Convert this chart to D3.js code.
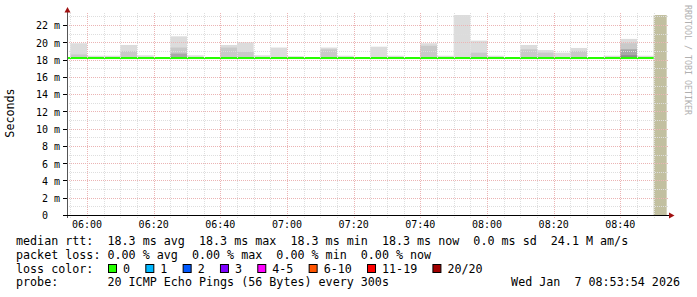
<!DOCTYPE html>
<html>
<head>
<meta charset="utf-8">
<script src="https://cdn.jsdelivr.net/npm/d3@7"></script>
<style>
  body { margin: 0; background: #fff; }
  text { font-family: "DejaVu Sans Mono", monospace; fill: #000; }
</style>
</head>
<body>
<div id="chart"></div>
<script>
// 5 minute steps, each value belongs to the interval that ends at that time
const stepEnds = ["05:55","06:00","06:05","06:10","06:15","06:20","06:25","06:30","06:35","06:40",
  "06:45","06:50","06:55","07:00","07:05","07:10","07:15","07:20","07:25","07:30",
  "07:35","07:40","07:45","07:50","07:55","08:00","08:05","08:10","08:15","08:20",
  "08:25","08:30","08:35","08:40","08:45","08:50"];

// median rtt (ms)
const medianRtt = stepEnds.map(() => 18.2);

// smoke layers (ms), lightest = highest ping, darker layers closer to the median
const smokeMax = [18.2,19.9,18.45,18.45,19.7,18.5,18.2,20.7,18.5,18.2,19.7,20.0,18.5,19.4,18.4,18.2,
  19.4,18.45,18.2,19.5,18.45,18.2,19.9,18.45,24.5,20.2,18.45,18.2,19.7,19.1,18.8,19.35,18.2,18.45,20.4,18.45];
const smokeHi  = [18.2,18.6,18.2,18.2,19.0,18.2,18.2,19.4,18.2,18.2,19.4,18.9,18.2,18.2,18.2,18.2,
  19.2,18.2,18.2,18.2,18.2,18.2,19.6,18.2,18.2,18.8,18.2,18.2,19.2,18.8,18.2,19.0,18.2,18.2,19.9,18.2];
const smokeMid = [18.2,18.2,18.2,18.2,18.2,18.2,18.2,18.7,18.2,18.2,18.2,18.2,18.2,18.2,18.2,18.2,
  18.2,18.2,18.2,18.2,18.2,18.2,18.2,18.2,18.2,18.2,18.2,18.2,18.2,18.2,18.2,18.2,18.2,18.2,19.2,18.2];
const smokeLo  = [18.2,18.2,18.2,18.2,18.2,18.2,18.2,18.2,18.2,18.2,18.2,18.2,18.2,18.2,18.2,18.2,
  18.2,18.2,18.2,18.2,18.2,18.2,18.2,18.2,18.2,18.2,18.2,18.2,18.2,18.2,18.2,18.2,18.2,18.2,18.5,18.2];

const yTicks = [0, 2, 4, 6, 8, 10, 12, 14, 16, 18, 20, 22];
const xTickLabels = ["06:00","06:20","06:40","07:00","07:20","07:40","08:00","08:20","08:40"];

const lossLabels = ["0", "1", "2", "3", "4-5", "6-10", "11-19", "20/20"];
const lossColors = ["#26ff00", "#00b8ff", "#0059ff", "#7e00ff", "#ff00ff", "#ff5500", "#ff0000", "#a10000"];

const legendLines = [
  "median rtt:  18.3 ms avg  18.3 ms max  18.3 ms min  18.3 ms now  0.0 ms sd  24.1 M am/s",
  "packet loss: 0.00 % avg  0.00 % max  0.00 % min  0.00 % now"
];
const probeText = "probe:       20 ICMP Echo Pings (56 Bytes) every 300s";
const stampText = "Wed Jan  7 08:53:54 2026";

const t = s => { const [h, m] = s.split(":").map(Number); return new Date(2026, 0, 7, h, m); };
const tStart = t("05:54"), tEnd = t("08:54"), tNow = new Date(2026, 0, 7, 8, 53, 54);

const width = 697, height = 297;
const x = d3.scaleTime().domain([tStart, tEnd]).range([67, 667]);
const y = d3.scaleLinear().domain([0, 23.17]).range([215, 15]);

const svg = d3.select("#chart").append("svg")
  .attr("width", width).attr("height", height);

svg.append("defs").append("clipPath").attr("id", "plot")
  .append("rect").attr("x", 67).attr("y", 15).attr("width", 600).attr("height", 200);

const data = stepEnds.map((s, i) => ({
  t1: t(s), t0: new Date(t(s) - 5 * 60000),
  med: medianRtt[i], layers: [smokeMax[i], smokeHi[i], smokeMid[i], smokeLo[i]]
}));

// smoke
const shades = ["#dcdcdc", "#c9c9c9", "#a8a8a8", "#8c8c8c"];
const plot = svg.append("g").attr("clip-path", "url(#plot)");
shades.forEach((c, k) => {
  plot.selectAll(null).data(data.filter(d => d.layers[k] > d.med)).enter().append("rect")
    .attr("x", d => x(d.t0)).attr("width", d => x(d.t1) - x(d.t0))
    .attr("y", d => y(d.layers[k])).attr("height", d => y(d.med) - y(d.layers[k]))
    .attr("fill", c);
});

// unknown (not yet measured) part
plot.append("rect")
  .attr("x", x(t("08:50"))).attr("width", x(tNow) - x(t("08:50")))
  .attr("y", y(23.17)).attr("height", y(0) - y(23.17))
  .attr("fill", "#c2c0a0");

// grid
const grid = svg.append("g").attr("stroke-dasharray", "1,1").attr("stroke-width", 1);
d3.range(0, 24).forEach(v => {
  grid.append("line")
    .attr("x1", 67).attr("x2", 669)
    .attr("y1", Math.round(y(v)) + 0.5).attr("y2", Math.round(y(v)) + 0.5)
    .attr("stroke", v % 2 === 0 ? "#ebb4b4" : "#dedede");
});
d3.timeMinute.every(5).range(t("05:55"), tEnd).forEach(d => {
  const major = d.getMinutes() % 20 === 0;
  grid.append("line")
    .attr("x1", Math.round(x(d)) + 0.5).attr("x2", Math.round(x(d)) + 0.5)
    .attr("y1", 13).attr("y2", 218)
    .attr("stroke", major ? "#ebb4b4" : "#dedede");
});

// median line
const line = d3.line().x(d => x(d[0])).y(d => y(d[1]));
const pts = [];
data.forEach(d => { pts.push([d.t0, d.med]); pts.push([d.t1, d.med]); });
plot.append("path").attr("d", line(pts))
  .attr("fill", "none").attr("stroke", "#26ff00").attr("stroke-width", 2);

// axes
svg.append("line").attr("x1", 67.5).attr("x2", 67.5).attr("y1", 12).attr("y2", 218)
  .attr("stroke", "#555");
svg.append("line").attr("x1", 63).attr("x2", 670).attr("y1", 215.5).attr("y2", 215.5)
  .attr("stroke", "#000");
svg.append("path").attr("d", "M64.5,12.5L67.5,7L70.5,12.5Z").attr("fill", "#a01010");
svg.append("path").attr("d", "M669,212.5L674.5,215.5L669,218.5Z").attr("fill", "#a01010");

yTicks.forEach(v => {
  svg.append("line").attr("x1", 63).attr("x2", 67)
    .attr("y1", Math.round(y(v)) + 0.5).attr("y2", Math.round(y(v)) + 0.5).attr("stroke", "#000");
  svg.append("text").attr("x", 48).attr("y", y(v) + 4.3).attr("text-anchor", "end")
    .attr("font-size", 10).text(v);
  if (v > 0) svg.append("text").attr("x", 54).attr("y", y(v) + 4.3)
    .attr("font-size", 10).text("m");
});

xTickLabels.forEach(s => {
  svg.append("text").attr("x", x(t(s))).attr("y", 228).attr("text-anchor", "middle")
    .attr("font-size", 10).text(s);
});

svg.append("text").attr("transform", "translate(14,113) rotate(-90)")
  .attr("text-anchor", "middle").attr("font-size", 11.7).text("Seconds");

svg.append("text").attr("transform", "translate(685,5) rotate(90)")
  .attr("font-size", 8.3).style("fill", "#b0b0b0").text("RRDTOOL / TOBI OETIKER");

// legend
const cw = 7.02, fs = 11.7;
legendLines.forEach((s, i) => {
  svg.append("text").attr("x", 16).attr("y", 245 + i * 13.6)
    .attr("font-size", fs).style("white-space", "pre").text(s);
});
svg.append("text").attr("x", 16).attr("y", 272.5).attr("font-size", fs)
  .style("white-space", "pre").text("loss color:");
let pos = 108;
lossLabels.forEach((l, i) => {
  svg.append("rect").attr("x", pos + 0.5).attr("y", 264.5).attr("width", 8).attr("height", 8)
    .attr("fill", lossColors[i]).attr("stroke", "#000");
  svg.append("text").attr("x", pos + 15).attr("y", 272.5).attr("font-size", fs).text(l);
  pos = pos + 15 + l.length * cw + 15.3;
});
svg.append("text").attr("x", 16).attr("y", 286).attr("font-size", fs)
  .style("white-space", "pre").text(probeText);
svg.append("text").attr("x", 680).attr("y", 286).attr("text-anchor", "end").attr("font-size", fs)
  .style("white-space", "pre").text(stampText);
</script>
</body>
</html>
